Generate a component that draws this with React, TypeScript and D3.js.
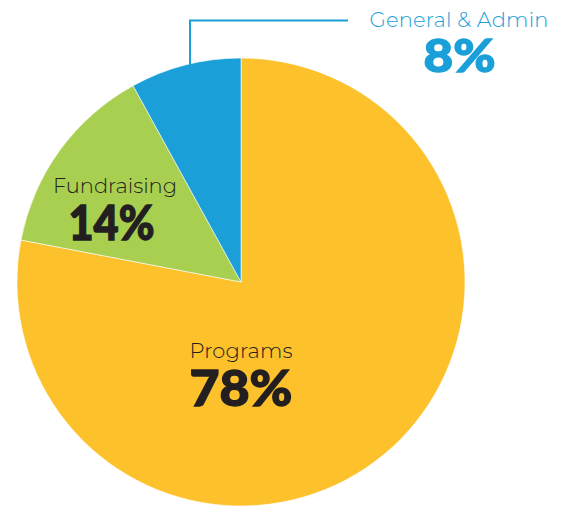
import React from "react";
import * as d3 from "d3";

const categories = ["Programs", "Fundraising", "General & Admin"];
const values = [78, 14, 8];
const colors = ["#FCC12B", "#A8CF50", "#1A9FD9"];

const W = 564;
const H = 506;
const cx = 241;
const cy = 282;
const R = 224;

export default function App() {
  const pie = d3.pie<number>().sort(null).value((d) => d);
  const arcs = pie(values);
  const arcGen = d3.arc<d3.PieArcDatum<number>>().innerRadius(0).outerRadius(R);

  const lx = cx - 51;
  const topY = cy - Math.sqrt(R * R - (lx - cx) * (lx - cx));

  const light = "Montserrat, 'Open Sans', sans-serif";
  const heavy = "Lato, 'Open Sans', sans-serif";
  const dark = "#231F20";

  return (
    <svg width={W} height={H} style={{ position: "absolute", left: 0, top: 0 }}>
      <rect width={W} height={H} fill="#fff" />
      <g transform={`translate(${cx},${cy})`}>
        {arcs.map((a, i) => (
          <path key={categories[i]} d={arcGen(a) || ""} fill={colors[i]} stroke="#fff" strokeWidth={0.6} />
        ))}
      </g>
      <polyline
        points={`${lx},${topY + 2} ${lx},20.5 348,20.5`}
        fill="none"
        stroke={colors[2]}
        strokeWidth={2}
      />
      <text x={459} y={27} textAnchor="middle" fill={colors[2]} fontFamily={light} fontWeight={300} fontSize={21} textLength={179}>
        {categories[2]}
      </text>
      <text x={459.5} y={72} textAnchor="middle" fill={colors[2]} stroke={colors[2]} strokeWidth={1.3} fontFamily={heavy} fontWeight={900} fontSize={46} textLength={72} lengthAdjust="spacingAndGlyphs">
        {values[2]}%
      </text>
      <text x={115} y={193} textAnchor="middle" fill={dark} fontFamily={light} fontWeight={300} fontSize={21} textLength={124}>
        {categories[1]}
      </text>
      <text x={111.5} y={240} textAnchor="middle" fill={dark} stroke={dark} strokeWidth={1.3} fontFamily={heavy} fontWeight={900} fontSize={47} textLength={86} lengthAdjust="spacingAndGlyphs">
        {values[1]}%
      </text>
      <text x={241} y={358} textAnchor="middle" fill={dark} fontFamily={light} fontWeight={300} fontSize={21} textLength={103}>
        {categories[0]}
      </text>
      <text x={241} y={406} textAnchor="middle" fill={dark} stroke={dark} strokeWidth={1.3} fontFamily={heavy} fontWeight={900} fontSize={49} textLength={103} lengthAdjust="spacingAndGlyphs">
        {values[0]}%
      </text>
    </svg>
  );
}
